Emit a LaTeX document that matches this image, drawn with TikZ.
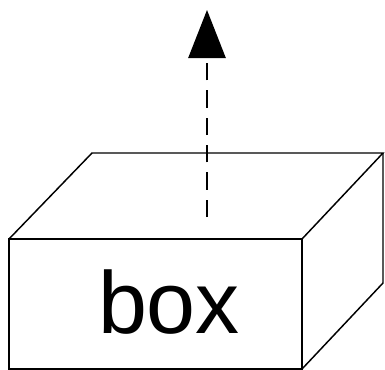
\documentclass[tikz,border=0pt]{standalone}
\usepackage{fontspec}
\setmainfont{Liberation Sans}
\usetikzlibrary{arrows.meta}

\begin{document}
\begin{tikzpicture}[x=0.75pt,y=-0.75pt,line width=1.1pt,
  upward/.style={dash pattern=on 13pt off 7.5pt,
    -{Triangle[length=36pt,width=28pt]}}]
\useasboundingbox (0,0) rectangle (385,369);

% front face
\draw (9,239) -- (302,239) -- (302,369) -- (9,369) -- cycle;
% top face
\draw (9,239) -- (92,153) -- (383,153) -- (302,239);
% right face
\draw (383,153) -- (383,283) -- (302,369);

\node (label) [font=\fontsize{66}{70}\selectfont, anchor=base] at (169,333) {box};

\coordinate (tail) at (207,217);
\coordinate (tip) at (207,10);
\draw[upward] (tail) -- (tip);
\end{tikzpicture}
\end{document}
